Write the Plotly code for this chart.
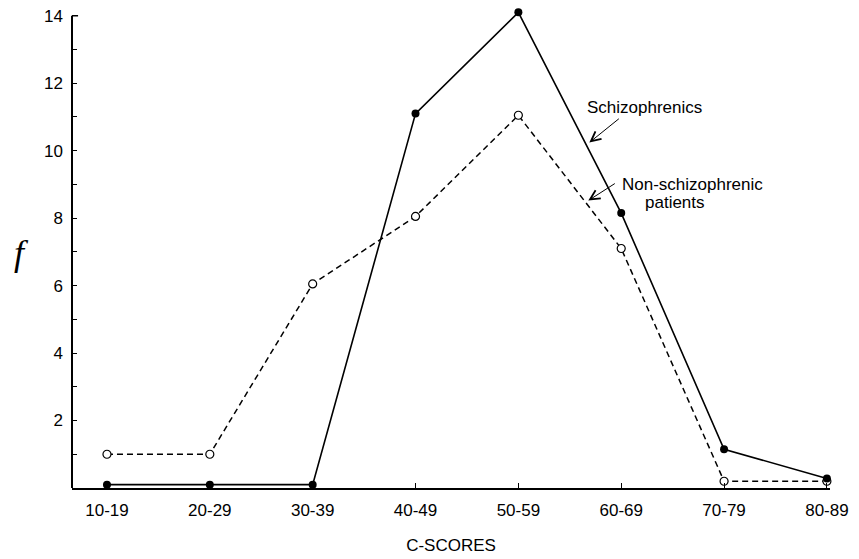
import plotly.graph_objects as go

categories = ["10-19", "20-29", "30-39", "40-49", "50-59", "60-69", "70-79", "80-89"]
schizophrenics = [0.1, 0.1, 0.1, 11.1, 14.1, 8.15, 1.15, 0.28]
non_schizophrenic = [1.0, 1.0, 6.05, 8.05, 11.05, 7.1, 0.2, 0.2]
y_tick_values = list(range(1, 15))
y_tick_labels = [str(v) if v % 2 == 0 else "" for v in y_tick_values]

xpos = list(range(len(categories)))
FONT = "Liberation Sans, Arial, Helvetica, sans-serif"
FS = 17

fig = go.Figure()
fig.add_trace(go.Scatter(
    x=xpos, y=non_schizophrenic, mode="lines+markers",
    line=dict(color="black", width=1.5, dash="6px,4px"),
    marker=dict(symbol="circle", size=8, color="white",
                line=dict(color="black", width=1.2)),
    cliponaxis=False, name="Non-schizophrenic patients",
))
fig.add_trace(go.Scatter(
    x=xpos, y=schizophrenics, mode="lines+markers",
    line=dict(color="black", width=1.6),
    marker=dict(symbol="circle", size=8, color="black"),
    cliponaxis=False, name="Schizophrenics",
))

fig.update_layout(
    width=851, height=551,
    margin=dict(l=64, r=29, t=1, b=71, autoexpand=False),
    paper_bgcolor="white", plot_bgcolor="white",
    showlegend=False,
    font=dict(family=FONT, size=FS, color="black"),
    xaxis=dict(
        range=[-0.34, 7.03], tickmode="array", tickvals=xpos, ticktext=categories,
        ticks="inside", ticklen=5, tickcolor="black", tickwidth=1,
        showline=True, linecolor="black", linewidth=2, showgrid=False, zeroline=False,
        tickfont=dict(size=FS), ticklabelstandoff=6, automargin=False,
        ticklabeloverflow="allow",
        title=dict(text="C-SCORES", font=dict(size=FS), standoff=20),
    ),
    yaxis=dict(
        range=[0, 14.2], tickmode="array", tickvals=y_tick_values, ticktext=y_tick_labels,
        ticks="inside", ticklen=5, tickcolor="black", tickwidth=1,
        showline=False, showgrid=False, zeroline=False,
        tickfont=dict(size=FS), ticklabelstandoff=8, automargin=False,
        ticklabeloverflow="allow",
    ),
)

# y axis line drawn only up to 14 (the top tick)
fig.add_shape(type="line", xref="paper", yref="y", x0=0, x1=0, y0=0, y1=14,
              line=dict(color="black", width=2))
fig.add_shape(type="line", xref="paper", yref="y", x0=0, x1=0.008, y0=14, y1=14,
              line=dict(color="black", width=1.5))

fig.add_annotation(x=4.69, y=10.24, ax=31, ay=-25, text="", showarrow=True,
                   arrowhead=5, arrowsize=1.9, arrowwidth=1, arrowcolor="black")
fig.add_annotation(x=4.68, y=8.52, ax=28, ay=-18, text="", showarrow=True,
                   arrowhead=5, arrowsize=1.9, arrowwidth=1, arrowcolor="black")
fig.add_annotation(x=5.23, y=11.28, text="Schizophrenics", showarrow=False,
                   font=dict(size=FS), xanchor="center", yanchor="middle")
fig.add_annotation(x=4.99, y=9.0, text="Non-schizophrenic", showarrow=False,
                   font=dict(size=FS), xanchor="left", yanchor="middle")
fig.add_annotation(x=5.21, y=8.45, text="patients", showarrow=False,
                   font=dict(size=FS), xanchor="left", yanchor="middle")
fig.add_annotation(xref="paper", yref="paper", x=-0.066, y=0.49,
                   text="<i>f</i>", showarrow=False,
                   font=dict(family="Liberation Serif, DejaVu Serif, serif", size=36),
                   xanchor="center", yanchor="middle")

fig.write_html("out.html")
